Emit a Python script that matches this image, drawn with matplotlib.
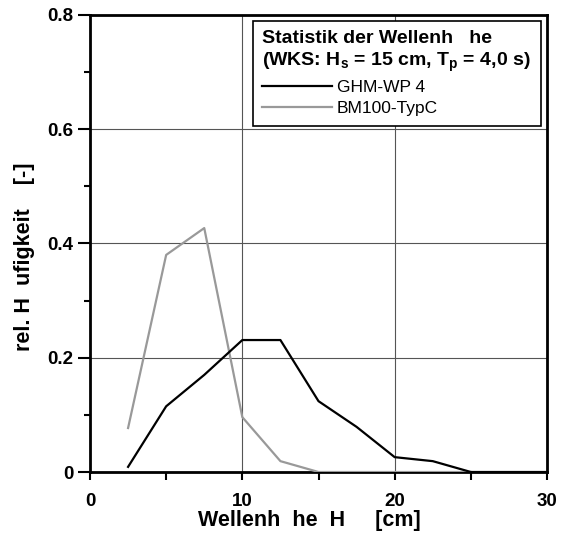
import matplotlib.pyplot as plt
from matplotlib.ticker import MultipleLocator

plt.rcParams['font.family'] = ['Liberation Sans', 'DejaVu Sans']
plt.rcParams['mathtext.fontset'] = 'custom'
plt.rcParams['mathtext.rm'] = 'Liberation Sans:bold'
plt.rcParams['mathtext.it'] = 'Liberation Sans:bold'
plt.rcParams['mathtext.bf'] = 'Liberation Sans:bold'

# Wellenhöhenklassen [cm]
hoehe = [2.5, 5, 7.5, 10, 12.5, 15, 17.5, 20, 22.5, 25, 27.5, 30]
# rel. Häufigkeit
ghm_wp4 = [0.009, 0.115, 0.170, 0.231, 0.231, 0.124, 0.079, 0.026, 0.019, 0.0, 0.0, 0.0]
bm100 = [0.077, 0.380, 0.427, 0.096, 0.019, 0.0, 0.0, 0.0, 0.0, 0.0]

fig = plt.figure(figsize=(5.71, 5.39), dpi=100)
ax = fig.add_axes([0.1576, 0.1243, 0.8004, 0.8479])

ax.plot(hoehe[:len(bm100)], bm100, color="#999999", lw=1.6, label="BM100-TypC", zorder=3)
ax.plot(hoehe, ghm_wp4, color="black", lw=1.6, label="GHM-WP 4", zorder=4)

ax.set_xlim(0, 30)
ax.set_ylim(0, 0.8)
ax.xaxis.set_major_locator(MultipleLocator(10))
ax.xaxis.set_minor_locator(MultipleLocator(5))
ax.yaxis.set_minor_locator(MultipleLocator(0.1))
ax.set_yticks([0, 0.2, 0.4, 0.6, 0.8])
ax.set_yticklabels(["0", "0.2", "0.4", "0.6", "0.8"])

ax.grid(which="major", color="#555555", lw=0.8)
ax.tick_params(axis="x", which="both", direction="out", length=6, width=1.5, pad=9)
ax.tick_params(axis="y", which="major", direction="out", length=9, width=1.5, pad=3)
ax.tick_params(axis="y", which="minor", direction="out", length=4, width=1.5)
ax.tick_params(labelsize=13.5)
for lab in ax.get_xticklabels() + ax.get_yticklabels():
    lab.set_fontweight("bold")
for sp in ax.spines.values():
    sp.set_linewidth(2)

ax.set_xlabel("Wellenh  he  H     [cm]", fontsize=15.5, fontweight="bold")
ax.set_ylabel("rel. H  ufigkeit    [-]", fontsize=15.5, fontweight="bold")
ax.xaxis.set_label_coords(0.481, -0.083)
ax.yaxis.set_label_coords(-0.12, 0.47)

handles, labels = ax.get_legend_handles_labels()
leg = ax.legend(handles[::-1], labels[::-1],
                title="Statistik der Wellenh   he\n(WKS: H$_s$ = 15 cm, T$_p$ = 4,0 s)",
                title_fontproperties={"weight": "bold", "size": 14},
                alignment="left", loc="upper right", bbox_to_anchor=(0.986, 0.987),
                fontsize=12.5, frameon=True, fancybox=False, framealpha=1,
                edgecolor="black", handlelength=4.0, handletextpad=0.3,
                borderpad=0.55, labelspacing=0.35, borderaxespad=0)
leg.get_frame().set_linewidth(1.2)
leg.set_zorder(10)

fig.savefig("out.png", dpi=100)
